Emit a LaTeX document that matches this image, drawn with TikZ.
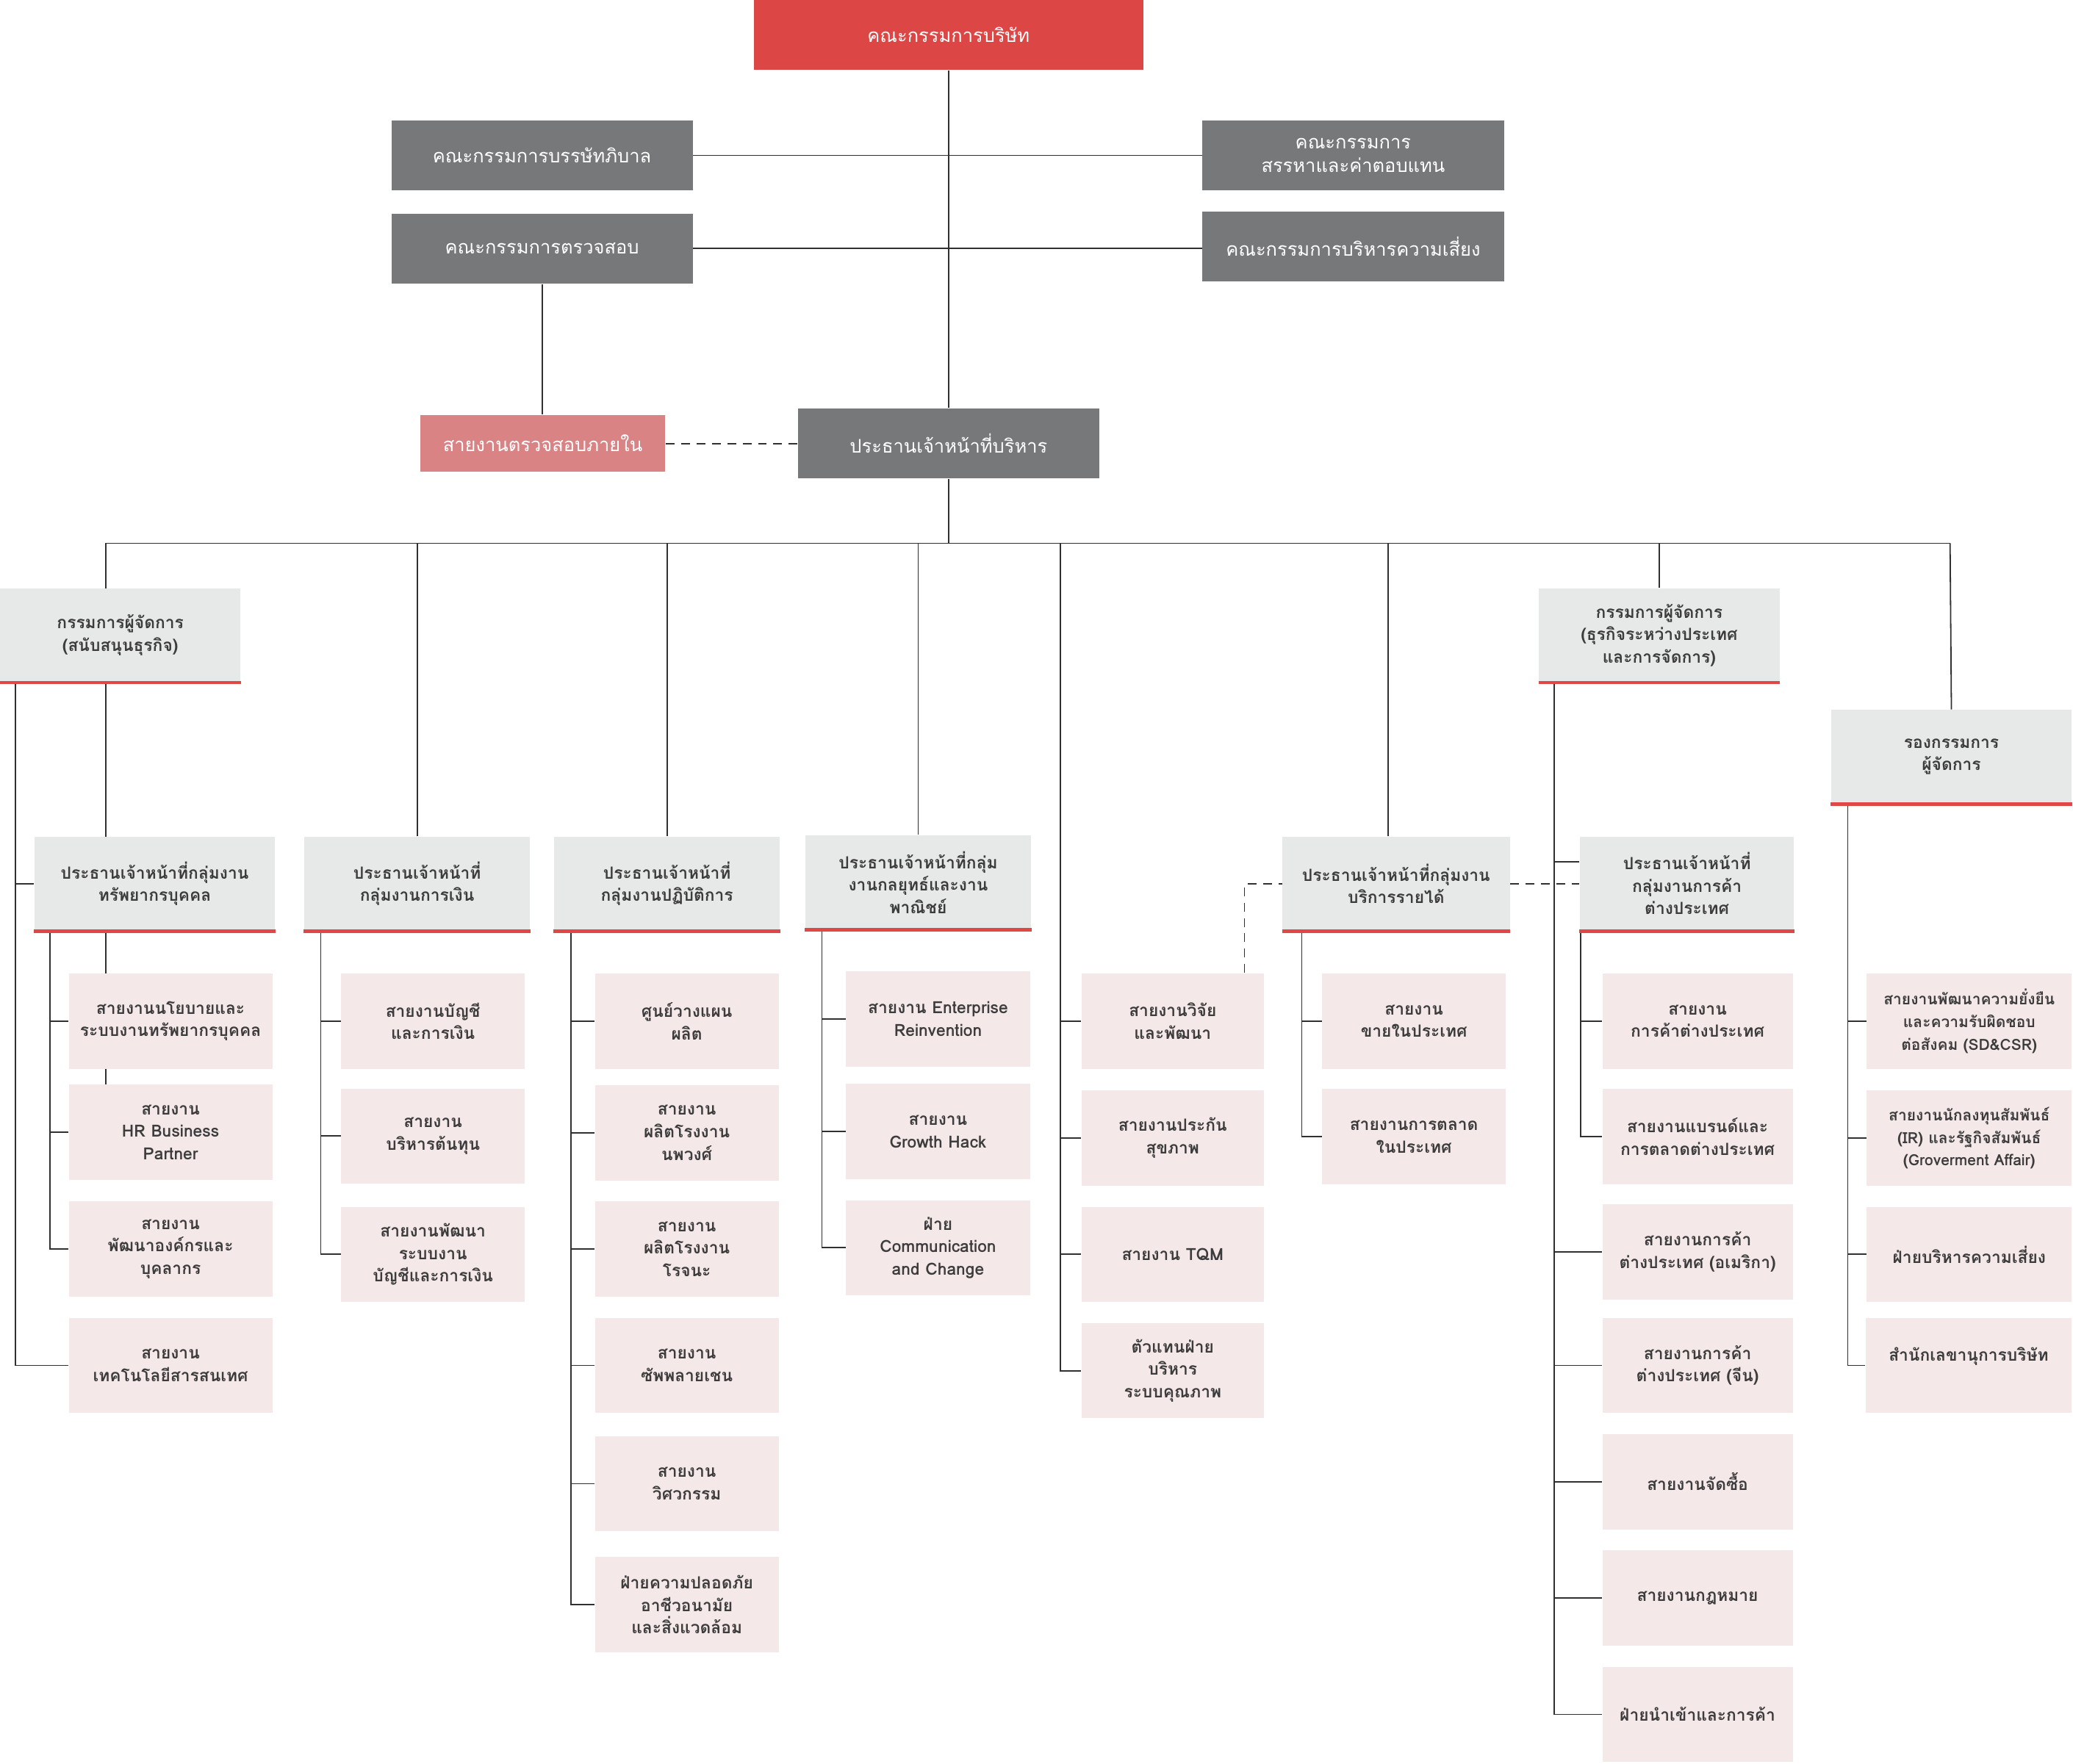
\documentclass[tikz,border=0pt]{standalone}
\usepackage{fontspec}
\newfontfamily\thaifont[Script=Thai]{Loma}
\usetikzlibrary{backgrounds}

\definecolor{boardred}{HTML}{DC4644}
\definecolor{cmtgrey}{HTML}{77787A}
\definecolor{auditpink}{HTML}{D98384}
\definecolor{headgrey}{HTML}{E7E8E8}
\definecolor{leafpink}{HTML}{F5E8E9}
\definecolor{linered}{HTML}{E04845}
\definecolor{txtgrey}{HTML}{3C3C3C}
\definecolor{wiregrey}{HTML}{303030}

\begin{document}
\begin{tikzpicture}[x=0.6pt,y=-0.6pt,
  box/.style={inner sep=0pt,align=center,font=\thaifont\bfseries\fontsize{7.6}{10.2}\selectfont},
  dark/.style={box,fill=cmtgrey,text=white,minimum width=136.8pt,minimum height=31.8pt,
    font=\thaifont\fontsize{8.5}{10.4}\selectfont},
  head/.style={box,fill=headgrey,text=txtgrey,minimum height=42.6pt,minimum width=#1},
  leaf/.style={box,fill=leafpink,text=txtgrey,minimum height=43.2pt,minimum width=#1},
  small/.style={font=\thaifont\bfseries\fontsize{7}{10.2}\selectfont},
  wire/.style={draw=wiregrey,line width=0.6pt},
  link/.style={wire,dash pattern=on 4pt off 3pt},
  redline/.style={draw=linered,line width=1.6pt}]
\useasboundingbox (0,0) rectangle (1568,1334);

% board and committees
\node[dark,fill=boardred,minimum width=177pt] (board) at (717.5,26.5) {คณะกรรมการบริษัท};
\node[dark] (gov) at (410,117.5) {คณะกรรมการบรรษัทภิบาล};
\node[dark] (audc) at (410,188) {คณะกรรมการตรวจสอบ};
\node[dark] (nom) at (1023.5,117.5) {คณะกรรมการ\\สรรหาและค่าตอบแทน};
\node[dark] (risk) at (1023.5,186.5) {คณะกรรมการบริหารความเสี่ยง};
\node[dark,fill=auditpink,minimum width=111pt,minimum height=25.8pt] (audit) at (410.5,335.5) {สายงานตรวจสอบภายใน};
\node[dark] (ceo) at (717.5,335.5) {ประธานเจ้าหน้าที่บริหาร};

% managing directors and group heads
\node[head=109.2pt] (mdA) at (91,480.5) {กรรมการผู้จัดการ\\(สนับสนุนธุรกิจ)};
\node[head=109.2pt] (mdB) at (1255,480.5) {กรรมการผู้จัดการ\\(ธุรกิจระหว่างประเทศ\\และการจัดการ)};
\node[head=109.2pt] (dmd) at (1476,572.5) {รองกรรมการ\\ผู้จัดการ};
\node[head=109.2pt] (hr) at (117,668.5) {ประธานเจ้าหน้าที่กลุ่มงาน\\ทรัพยากรบุคคล};
\node[head=102.6pt] (fin) at (315.5,668.5) {ประธานเจ้าหน้าที่\\กลุ่มงานการเงิน};
\node[head=102.6pt] (ops) at (504.5,668.5) {ประธานเจ้าหน้าที่\\กลุ่มงานปฏิบัติการ};
\node[head=102.6pt] (stg) at (694.5,667.5) {ประธานเจ้าหน้าที่กลุ่ม\\งานกลยุทธ์และงาน\\พาณิชย์};
\node[head=103.2pt] (rev) at (1056,668.5) {ประธานเจ้าหน้าที่กลุ่มงาน\\บริการรายได้};
\node[head=97.2pt] (trd) at (1276,668.5) {ประธานเจ้าหน้าที่\\กลุ่มงานการค้า\\ต่างประเทศ};

% human resources
\node[leaf=92.4pt] (hrA) at (129,772.5) {สายงานนโยบายและ\\ระบบงานทรัพยากรบุคคล};
\node[leaf=92.4pt] (hrB) at (129,856.5) {สายงาน\\HR Business\\Partner};
\node[leaf=92.4pt] (hrC) at (129,945) {สายงาน\\พัฒนาองค์กรและ\\บุคลากร};
\node[leaf=92.4pt] (hrD) at (129,1033) {สายงาน\\เทคโนโลยีสารสนเทศ};

% finance
\node[leaf=83.4pt] (finA) at (327.5,772.5) {สายงานบัญชี\\และการเงิน};
\node[leaf=83.4pt] (finB) at (327.5,859.5) {สายงาน\\บริหารต้นทุน};
\node[leaf=83.4pt] (finC) at (327.5,949) {สายงานพัฒนา\\ระบบงาน\\บัญชีและการเงิน};

% operations
\node[leaf=83.4pt] (opsA) at (519.5,772.5) {ศูนย์วางแผน\\ผลิต};
\node[leaf=83.4pt] (opsB) at (519.5,857) {สายงาน\\ผลิตโรงงาน\\นพวงศ์};
\node[leaf=83.4pt] (opsC) at (519.5,945) {สายงาน\\ผลิตโรงงาน\\โรจนะ};
\node[leaf=83.4pt] (opsD) at (519.5,1033) {สายงาน\\ซัพพลายเชน};
\node[leaf=83.4pt] (opsE) at (519.5,1122.5) {สายงาน\\วิศวกรรม};
\node[leaf=83.4pt] (opsF) at (519.5,1214) {ฝ่ายความปลอดภัย\\อาชีวอนามัย\\และสิ่งแวดล้อม};

% strategy
\node[leaf=83.4pt] (stgA) at (709.5,771) {สายงาน Enterprise\\Reinvention};
\node[leaf=83.4pt] (stgB) at (709.5,856) {สายงาน\\Growth Hack};
\node[leaf=83.4pt] (stgC) at (709.5,944) {ฝ่าย\\Communication\\and Change};

% research and quality
\node[leaf=82.8pt] (rdA) at (887,772.5) {สายงานวิจัย\\และพัฒนา};
\node[leaf=82.8pt] (rdB) at (887,861) {สายงานประกัน\\สุขภาพ};
\node[leaf=82.8pt] (rdC) at (887,949) {สายงาน TQM};
\node[leaf=82.8pt] (rdD) at (887,1037) {ตัวแทนฝ่าย\\บริหาร\\ระบบคุณภาพ};

% revenue
\node[leaf=83.4pt] (revA) at (1069.5,772.5) {สายงาน\\ขายในประเทศ};
\node[leaf=83.4pt] (revB) at (1069.5,860) {สายงานการตลาด\\ในประเทศ};

% international trade
\node[leaf=86.4pt] (trdA) at (1284,772.5) {สายงาน\\การค้าต่างประเทศ};
\node[leaf=86.4pt] (trdB) at (1284,860) {สายงานแบรนด์และ\\การตลาดต่างประเทศ};
\node[leaf=86.4pt] (trdC) at (1284,947) {สายงานการค้า\\ต่างประเทศ (อเมริกา)};
\node[leaf=86.4pt] (trdD) at (1284,1033) {สายงานการค้า\\ต่างประเทศ (จีน)};
\node[leaf=86.4pt] (trdE) at (1284,1121) {สายงานจัดซื้อ};
\node[leaf=86.4pt] (trdF) at (1284,1209) {สายงานกฎหมาย};
\node[leaf=86.4pt] (trdG) at (1284,1297) {ฝ่ายนำเข้าและการค้า};

% deputy
\node[leaf=93pt,small] (dmdA) at (1489.5,772.5) {สายงานพัฒนาความยั่งยืน\\และความรับผิดชอบ\\ต่อสังคม (SD\&CSR)};
\node[leaf=93pt,small] (dmdB) at (1489.5,861) {สายงานนักลงทุนสัมพันธ์\\(IR) และรัฐกิจสัมพันธ์\\(Groverment Affair)};
\node[leaf=93pt] (dmdC) at (1489.5,949) {ฝ่ายบริหารความเสี่ยง};
\node[leaf=93.6pt] (dmdD) at (1489,1033) {สำนักเลขานุการบริษัท\\\mbox{}};

% red underlines
\foreach \n in {mdA,mdB,dmd,hr,fin,ops,stg,rev,trd}
  \draw[redline] (\n.south west) -- (\n.south east);

\begin{scope}[on background layer]
\coordinate (bus) at (717.5,411);
\coordinate (busL) at (80,411);
\coordinate (busR) at (1475,411);
\coordinate (rd) at (802,411);

\draw[wire] (board) -- (ceo);
\draw[wire] (gov) -- (nom);
\draw[wire] (audc.east) -- (audc.east -| risk.west);
\draw[wire] (audc.south) -- (audc.south |- audit.north);
\draw[link] (audit) -- (ceo);

% main bus
\draw[wire] (ceo) -- (bus);
\draw[wire] (busL) -- (busR);
\draw[wire] (busL) -- (busL |- hrB.north);
\foreach \n in {fin,ops,stg,mdB}
  \draw[wire] (\n.north) -- (\n.north |- bus);
\draw[wire] ([xshift=-3.6pt]rev.north) -- ([xshift=-3.6pt]rev.north |- bus);
\draw[wire] (busR) -- (dmd.north);

% branches
\foreach \n in {hr,hrD} \draw[wire] (mdA.south west) ++(12,0) |- (\n.west);
\foreach \n in {hrA,hrB,hrC} \draw[wire] (hr.south west) ++(12,0) |- (\n.west);
\foreach \n in {finA,finB,finC} \draw[wire] (fin.south west) ++(13,0) |- (\n.west);
\foreach \n in {opsA,opsB,opsC,opsD,opsE,opsF} \draw[wire] (ops.south west) ++(13,0) |- (\n.west);
\foreach \n in {stgA,stgB,stgC} \draw[wire] (stg.south west) ++(13,0) |- (\n.west);
\foreach \n in {rdA,rdB,rdC,rdD} \draw[wire] (rd) |- (\n.west);
\foreach \n in {revA,revB} \draw[wire] (rev.south west) ++(15,0) |- (\n.west);
\draw[wire] (mdB.south west) ++(12,0) |- ([yshift=10pt]trd.west);
\foreach \n in {trdC,trdD,trdE,trdF,trdG} \draw[wire] (mdB.south west) ++(12,0) |- (\n.west);
\foreach \n in {trdA,trdB} \draw[wire] (trd.south west) ++(1,0) |- (\n.west);
\foreach \n in {dmdA,dmdB,dmdC,dmdD} \draw[wire] (dmd.south west) ++(13,0) |- (\n.west);

% dotted links
\draw[link] (rdA.north east) ++(-15,0) |- (rev.west);
\draw[link] (rev.east) -- (trd.west);
\end{scope}
\end{tikzpicture}
\end{document}
